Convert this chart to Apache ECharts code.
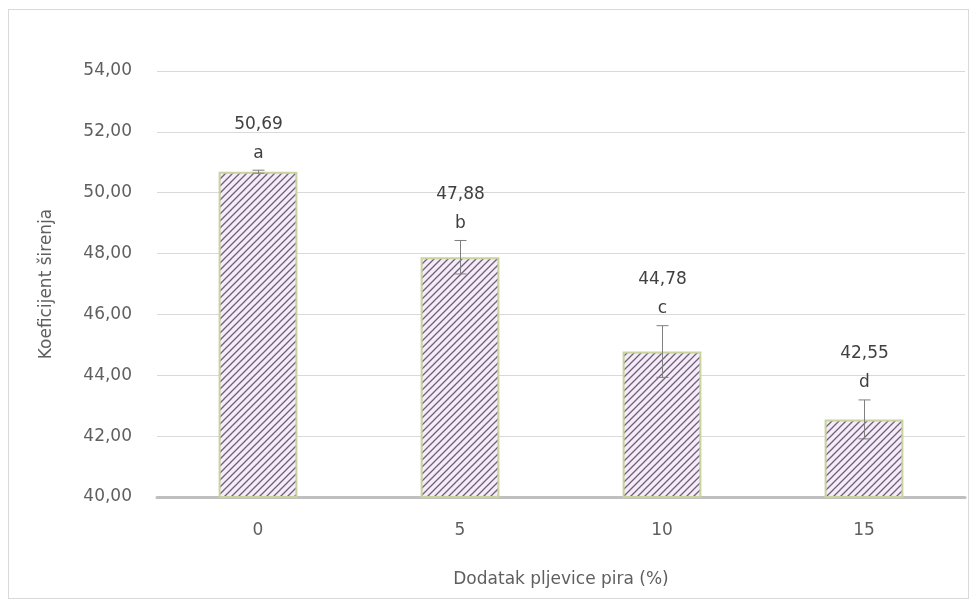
<!DOCTYPE html>
<html>
<head>
<meta charset="utf-8">
<script src="https://cdn.jsdelivr.net/npm/echarts@6/dist/echarts.min.js"></script>
<style>
html,body{margin:0;padding:0;background:#fff;}
#frame{position:absolute;left:8px;top:9px;width:961px;height:590px;border:1px solid #d9d9d9;box-sizing:border-box;}
#chart{position:absolute;left:0;top:0;width:979px;height:607px;}
</style>
</head>
<body>
<div id="frame"></div>
<div id="chart"></div>
<script>
const categories = ['0', '5', '10', '15'];
const values = [50.69, 47.88, 44.78, 42.55];
const errors = [0.05, 0.55, 0.85, 0.64];
const letters = ['a', 'b', 'c', 'd'];
const yTicks = { min: 40, max: 54, interval: 2 };

function fmt(v) { return v.toFixed(2).replace('.', ','); }

// hatch pattern
const T = 7;
const pc = document.createElement('canvas');
pc.width = T; pc.height = T;
const ctx = pc.getContext('2d');
ctx.fillStyle = '#f5ebf9';
ctx.fillRect(0, 0, T, T);
ctx.strokeStyle = '#6e6076';
ctx.lineWidth = 1.3;
ctx.beginPath();
for (let k = -1; k <= 1; k++) {
  ctx.moveTo(-1 + k * T, T + 1); ctx.lineTo(T + 1 + k * T, -1);
}
ctx.stroke();

const chart = echarts.init(document.getElementById('chart'), null, { renderer: 'canvas' });
const font = '"DejaVu Sans", "Noto Sans", sans-serif';
const fs = 17;

chart.setOption({
  animation: false,
  grid: { left: 157, right: 14, top: 71, bottom: 110, containLabel: false },
  xAxis: {
    type: 'category',
    data: categories,
    name: 'Dodatak pljevice pira (%)',
    nameLocation: 'middle',
    nameGap: 74,
    nameTextStyle: { color: '#5f5f5f', fontSize: fs, fontFamily: font },
    axisLine: { lineStyle: { color: '#bfbfbf', width: 3 } },
    axisTick: { show: false },
    axisLabel: { color: '#5f5f5f', fontSize: fs, fontFamily: font, margin: 25 }
  },
  yAxis: {
    type: 'value',
    min: yTicks.min, max: yTicks.max, interval: yTicks.interval,
    name: 'Koeficijent širenja',
    nameLocation: 'middle',
    nameGap: 102,
    nameTextStyle: { color: '#5f5f5f', fontSize: fs, fontFamily: font },
    axisLine: { show: false },
    axisTick: { show: false },
    splitLine: { lineStyle: { color: '#d9d9d9', width: 1 } },
    axisLabel: { color: '#5f5f5f', fontSize: fs, fontFamily: font, margin: 25, formatter: v => fmt(v) }
  },
  series: [
    {
      type: 'bar',
      data: values,
      barWidth: '39%',
      itemStyle: {
        color: { image: pc, repeat: 'repeat' },
        borderColor: '#c8d39e',
        borderWidth: 2
      },
      z: 2
    },
    {
      type: 'custom',
      data: values.map((v, i) => [i, v, errors[i]]),
      z: 5,
      renderItem: function (params, api) {
        const i = api.value(0), v = api.value(1), e = api.value(2);
        const top = api.coord([i, v + e]);
        const bot = api.coord([i, v - e]);
        const x = Math.round(top[0]) + 0.5;
        const cap = 6;
        return {
          type: 'group',
          children: [
            { type: 'line', shape: { x1: x, y1: top[1], x2: x, y2: bot[1] }, style: { stroke: '#7f7f7f', lineWidth: 1 } },
            { type: 'line', shape: { x1: x - cap, y1: top[1], x2: x + cap, y2: top[1] }, style: { stroke: '#7f7f7f', lineWidth: 1 } },
            { type: 'line', shape: { x1: x - cap, y1: bot[1], x2: x + cap, y2: bot[1] }, style: { stroke: '#7f7f7f', lineWidth: 1 } },
            { type: 'text', x: x, y: top[1] - 17, style: { text: letters[params.dataIndex], fill: '#404040', font: fs + 'px ' + font, align: 'center', verticalAlign: 'middle' } },
            { type: 'text', x: x, y: top[1] - 46, style: { text: fmt(v), fill: '#404040', font: fs + 'px ' + font, align: 'center', verticalAlign: 'middle' } }
          ]
        };
      }
    }
  ]
});
</script>
</body>
</html>
